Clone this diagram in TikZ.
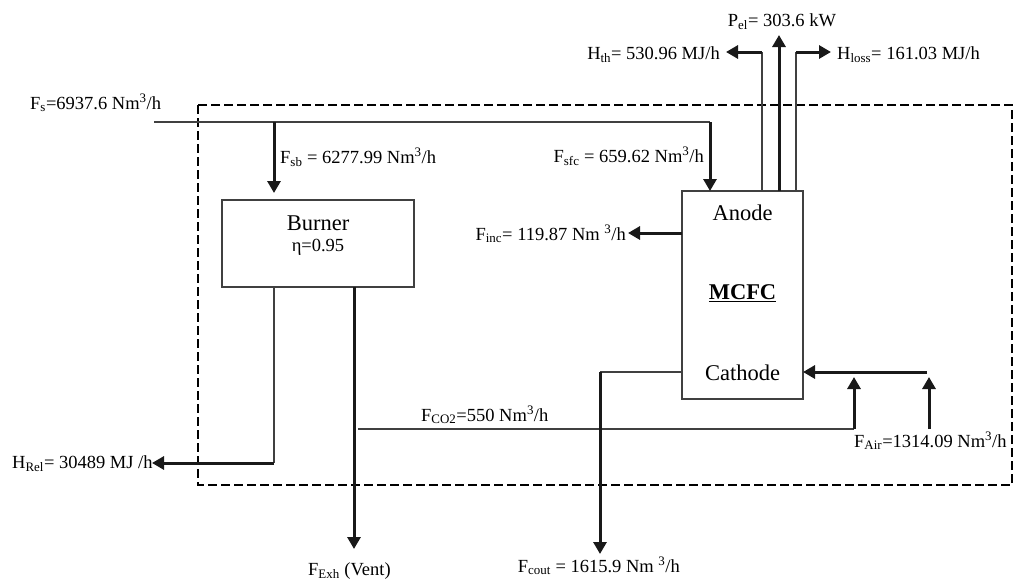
\documentclass[tikz,border=0pt]{standalone}
\usepackage{fontspec}
\setmainfont{Liberation Serif}
\usetikzlibrary{arrows.meta}
\begin{document}
\begin{tikzpicture}[x=1pt,y=-1pt,
  thinline/.style={draw=black!75, line width=1.3pt},
  flow/.style={draw=black!90, line width=3pt},
  flowarrow/.style={flow, -{Triangle[length=12pt,width=13pt]}},
  boxshape/.style={draw=black!75, line width=1.3pt, rectangle, inner sep=0pt},
  lbl/.style={font=\fontsize{18.5}{20}\selectfont, inner sep=0pt, text=black},
  boxlbl/.style={font=\fontsize{22.5}{24}\selectfont, inner sep=0pt, text=black},
  border/.style={draw=black, line width=2pt, dash pattern=on 9pt off 4pt}]
\useasboundingbox (0,0) rectangle (1013,581);
% system boundary
\draw[border] (198,105) rectangle (1012,485);
% units
\node[boxshape, minimum width=192pt, minimum height=87pt] (burner) at (318,243.5) {};
\node[boxlbl] (burnertxt) at (318,223) {Burner};
\node[lbl] (eta) at (318,247) {η=0.95};
\node[boxshape, minimum width=121pt, minimum height=208pt] (mcfc) at (742.5,295) {};
\node[boxlbl] (anode) at (742.5,213) {Anode};
\node[boxlbl, font=\fontsize{22.5}{24}\selectfont\bfseries] (mcfctxt) at (742.5,293) {\underline{MCFC}};
\node[boxlbl] (cathode) at (742.5,373) {Cathode};
% coordinates
\coordinate (s0) at (154,122);
\coordinate (sj1) at (274,122);
\coordinate (sj2) at (710,122);
\coordinate (sbend) at (274,193);
\coordinate (sfcend) at (710,191);
\coordinate (rel0) at (274,287);
\coordinate (rel1) at (274,463);
\coordinate (rel2) at (152,463);
\coordinate (vent0) at (354,287);
\coordinate (vent1) at (354,549);
\coordinate (co0) at (358,429);
\coordinate (co1) at (854,429);
\coordinate (co2) at (854,377);
\coordinate (air0) at (929,429);
\coordinate (air1) at (929,377);
\coordinate (air2) at (927,372);
\coordinate (cat0) at (803,372);
\coordinate (cl0) at (682,372);
\coordinate (cl1) at (600,372);
\coordinate (cl2) at (600,554);
\coordinate (inc0) at (682,233);
\coordinate (inc1) at (628,233);
\coordinate (th0) at (762,191);
\coordinate (th1) at (762,52);
\coordinate (th2) at (726,52);
\coordinate (el0) at (779,191);
\coordinate (el1) at (779,35);
\coordinate (lo0) at (796,191);
\coordinate (lo1) at (796,52);
\coordinate (lo2) at (831,52);
% connectors
\draw[thinline] (s0) -- (sj2);
\draw[flowarrow] (sj1) -- (sbend);
\draw[flowarrow] (sj2) -- (sfcend);
\draw[thinline] (rel0) -- (rel1);
\draw[flowarrow] (rel1) -- (rel2);
\draw[flowarrow] (vent0) -- (vent1);
\draw[thinline] (co0) -- (co1);
\draw[flowarrow] (co1) -- (co2);
\draw[flowarrow] (air0) -- (air1);
\draw[flowarrow] (air2) -- (cat0);
\draw[thinline] (cl0) -- (cl1);
\draw[flowarrow] (cl1) -- (cl2);
\draw[flowarrow] (inc0) -- (inc1);
\draw[thinline] (th0) -- (th1);
\draw[flowarrow] (th1) -- (th2);
\draw[flowarrow] (el0) -- (el1);
\draw[thinline] (lo0) -- (lo1);
\draw[flowarrow] (lo1) -- (lo2);
% labels
\node[lbl, anchor=base west] (lfs) at (30,109) {F\textsubscript{s}=6937.6 Nm\textsuperscript{3}/h};
\node[lbl, anchor=base west] (lfsb) at (280,163) {F\textsubscript{sb} = 6277.99 Nm\textsuperscript{3}/h};
\node[lbl, anchor=base east] (lfsfc) at (704,162) {F\textsubscript{sfc} = 659.62 Nm\textsuperscript{3}/h};
\node[lbl, anchor=base east] (lfinc) at (626,240) {F\textsubscript{inc}= 119.87 Nm \textsuperscript{3}/h};
\node[lbl, anchor=base east] (lhth) at (720,59) {H\textsubscript{th}= 530.96 MJ/h};
\node[lbl, anchor=base west] (lhloss) at (837,59) {H\textsubscript{loss}= 161.03 MJ/h};
\node[lbl, anchor=base] (lpel) at (782,26) {P\textsubscript{el}= 303.6 kW};
\node[lbl, anchor=base west] (lco2) at (421,421) {F\textsubscript{CO2}=550 Nm\textsuperscript{3}/h};
\node[lbl, anchor=base west] (lair) at (854,447) {F\textsubscript{Air}=1314.09 Nm\textsuperscript{3}/h};
\node[lbl, anchor=base west] (lhrel) at (12,468) {H\textsubscript{Rel}= 30489 MJ /h};
\node[lbl, anchor=base west] (lvent) at (308,575) {F\textsubscript{Exh} (Vent)};
\node[lbl, anchor=base east] (lcout) at (680,572) {F\textsubscript{cout} = 1615.9 Nm \textsuperscript{3}/h};
\end{tikzpicture}
\end{document}
